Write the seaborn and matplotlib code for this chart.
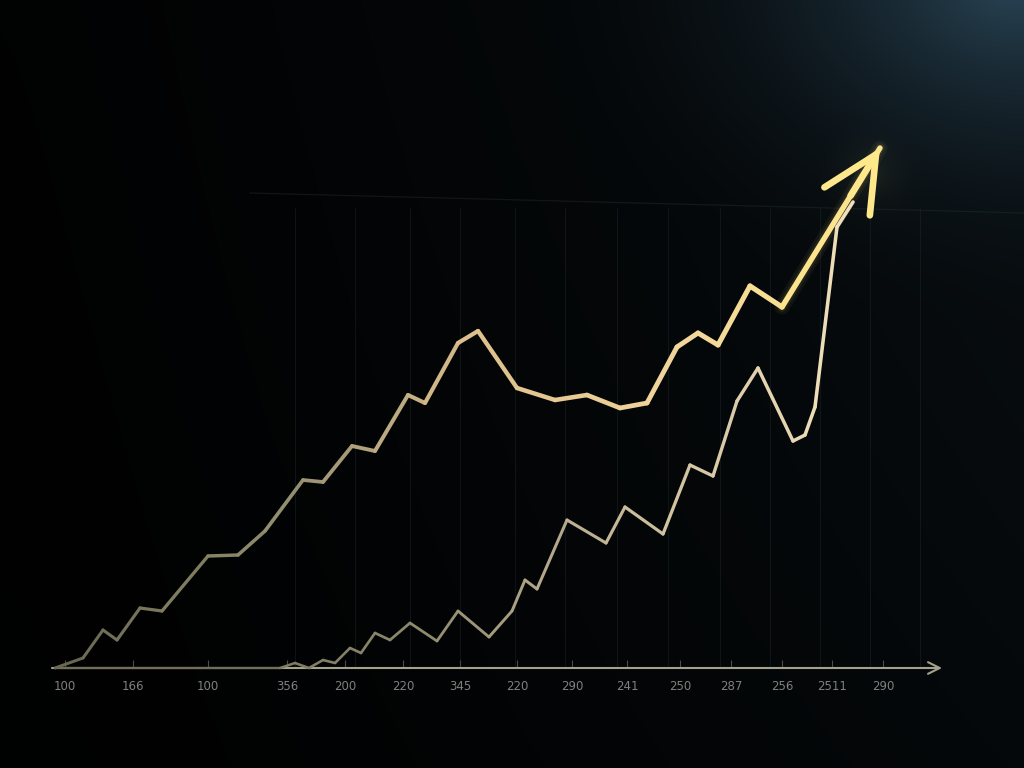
import numpy as np
import pandas as pd
import matplotlib
matplotlib.use("Agg")
import matplotlib.pyplot as plt
import seaborn as sns
from matplotlib.colors import LinearSegmentedColormap, to_hex

sns.set_theme(style="dark")
plt.rcParams['font.family'] = ['DejaVu Sans']

# ---------------- data ----------------
upper_x = [55, 83, 103, 117, 140, 162, 208, 238, 265, 303, 323, 352, 375, 408, 425,
           458, 478, 517, 555, 587, 620, 647, 677, 698, 718, 750, 782, 880]
upper_y = [0, 10, 38, 28, 60, 57, 112, 113, 137, 188, 186, 222, 217, 273, 265,
           325, 337, 280, 268, 273, 260, 265, 321, 335, 323, 382, 361, 520]

lower_x = [55, 280, 295, 309, 323, 335, 350, 361, 375, 390, 410, 437, 458, 489, 512,
           525, 537, 567, 606, 625, 663, 690, 713, 737, 758, 793, 805, 815, 837, 853]
lower_y = [0, 0, 5, 0, 8, 5, 20, 15, 35, 28, 45, 27, 57, 31, 57,
           88, 79, 148, 125, 161, 134, 203, 192, 267, 300, 227, 233, 261, 441, 466]

tick_pos = [65, 133, 208, 287, 345, 403, 460, 517, 572, 627, 680, 731, 782, 832, 883]
tick_labels = ["100", "166", "100", "356", "200", "220", "345", "220",
               "290", "241", "250", "287", "256", "2511", "290"]

# ---------------- figure & background ----------------
W, H = 1024, 768
fig = plt.figure(figsize=(W / 100, H / 100), dpi=100)
bg = fig.add_axes([0, 0, 1, 1], zorder=-10)
yy, xx = np.mgrid[0:H, 0:W]
base_left = np.array([0.006, 0.008, 0.010])
base_right = np.array([0.035, 0.058, 0.072])
t = (xx / W)[..., None] ** 1.4
img = base_left * (1 - t) + base_right * t
d = np.sqrt(((xx - 1010) / 480.0) ** 2 + ((yy + 10) / 340.0) ** 2)
glow = np.clip(1 - d, 0, 1)[..., None] ** 2
img = img + glow * np.array([0.12, 0.20, 0.25])
vert = (yy / H)[..., None]
img = img * (1 - 0.45 * vert)
d2 = np.sqrt(((xx - 870) / 60.0) ** 2 + ((yy - 175) / 60.0) ** 2)
img = img + (np.clip(1 - d2, 0, 1) ** 2)[..., None] * np.array([0.07, 0.065, 0.03])
bg.imshow(np.clip(img, 0, 1), aspect="auto", extent=[0, W, H, 0])
bg.axis("off")

ax = fig.add_axes([0, 0, 1, 1])
ax.set_facecolor("none")
ax.set_xlim(0, W)
ax.set_ylim(-100, 668)

# very faint perspective grid
ax.vlines([295, 355, 410, 460, 515, 565, 617, 668, 720, 770, 820, 870, 920],
          0, 460, colors="#24323a", lw=0.8, alpha=0.35, zorder=1)
ax.plot([250, 1024], [475, 455], color="#1f2d34", lw=0.9, alpha=0.45, zorder=1)


def gradient_line(xs, ys, anchors, w0, w1, z):
    cmap = LinearSegmentedColormap.from_list("g", anchors)
    xmin, xmax = min(xs), max(xs)
    rows = []
    pal, sizes = {}, {}
    for i in range(len(xs) - 1):
        sid = f"s{i:03d}"
        rows.append((sid, xs[i], ys[i]))
        rows.append((sid, xs[i + 1], ys[i + 1]))
        f = ((xs[i] + xs[i + 1]) / 2 - xmin) / (xmax - xmin)
        pal[sid] = to_hex(cmap(f))
        sizes[sid] = w0 + (w1 - w0) * f
    df = pd.DataFrame(rows, columns=["seg", "x", "y"])
    sns.lineplot(data=df, x="x", y="y", hue="seg", size="seg", palette=pal,
                 sizes=sizes, estimator=None, sort=False, legend=False, ax=ax,
                 solid_capstyle="round", solid_joinstyle="round", zorder=z)


# soft glow under the rising end of the upper line
glow_df = pd.DataFrame({"x": upper_x[-2:], "y": upper_y[-2:]})
for w, a in [(11, 0.05), (7, 0.08)]:
    sns.lineplot(data=glow_df, x="x", y="y", color="#ffe27a", linewidth=w, alpha=a,
                 estimator=None, sort=False, legend=False, ax=ax, zorder=3)

gradient_line(lower_x, lower_y,
              [(0.0, "#65644f"), (0.45, "#8c876c"), (0.7, "#c6b797"), (1.0, "#f2e2bc")],
              1.5, 2.6, 4)
gradient_line(upper_x, upper_y,
              [(0.0, "#66664f"), (0.3, "#979172"), (0.5, "#dcbf8c"), (0.75, "#f1d59c"),
               (1.0, "#ffe98a")],
              2.1, 4.0, 5)

# arrow head at the end of the upper line
tip = (upper_x[-1], upper_y[-1])
back = (upper_x[-2], upper_y[-2])
start = (tip[0] - (tip[0] - back[0]) * 0.3, tip[1] - (tip[1] - back[1]) * 0.3)
ax.annotate("", xy=tip, xytext=start,
            arrowprops=dict(arrowstyle="->,head_length=3.3,head_width=1.6",
                            color="#ffe88c", lw=4.8, capstyle="round",
                            shrinkA=0, shrinkB=0), zorder=6)

# x axis with arrow
ax.annotate("", xy=(942, 0), xytext=(52, 0),
            arrowprops=dict(arrowstyle="->,head_length=0.7,head_width=0.35",
                            color="#a4a28c", lw=1.5, shrinkA=0, shrinkB=0), zorder=2)

for s in ax.spines.values():
    s.set_visible(False)
ax.spines["bottom"].set_position(("data", 0))
ax.set_xticks(tick_pos, tick_labels)
ax.set_yticks([])
ax.tick_params(axis="x", colors="#4c4c48", labelcolor="#80807c", labelsize=8.5,
               direction="in", length=6, width=0.8, pad=9, bottom=True)
ax.grid(False)
ax.set_xlabel("")
ax.set_ylabel("")

fig.savefig("out.png", dpi=100, facecolor="black")
